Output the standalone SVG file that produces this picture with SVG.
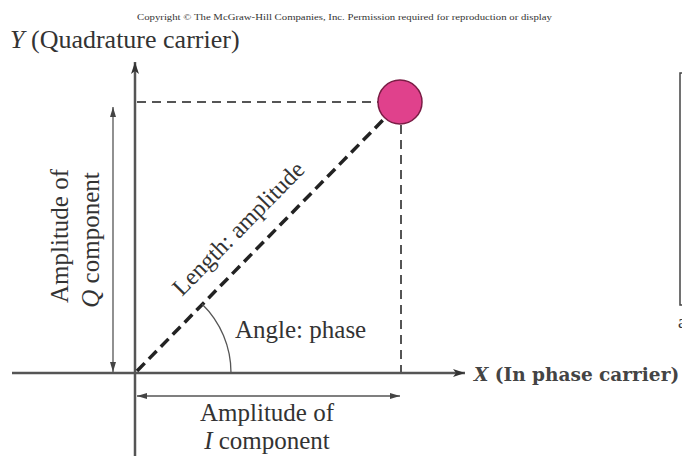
<svg xmlns="http://www.w3.org/2000/svg" width="682" height="456" viewBox="0 0 682 456">
<defs>
<marker id="ah" viewBox="0 0 12 8" refX="12" refY="4" markerWidth="12" markerHeight="8" markerUnits="userSpaceOnUse" orient="auto-start-reverse"><path d="M0,0 L12,4 L0,8 L3,4 Z" fill="#333"/></marker>
<marker id="ahs" viewBox="0 0 10 6" refX="10" refY="3" markerWidth="10" markerHeight="6" markerUnits="userSpaceOnUse" orient="auto-start-reverse"><path d="M0,0 L10,3 L0,6 Z" fill="#444"/></marker>
</defs>
<style>
.t{font-family:"Liberation Serif",serif;fill:#333}
.axis{stroke:#555;stroke-width:2.5;fill:none}
.dim{stroke:#555;stroke-width:1.3;fill:none}
.dash{stroke:#555;stroke-width:2;stroke-dasharray:9,6;fill:none}
</style>
<rect width="682" height="456" fill="#fff"/>
<text class="t" x="137" y="20" font-size="9" textLength="415" lengthAdjust="spacingAndGlyphs" fill="#666">Copyright © The McGraw-Hill Companies, Inc. Permission required for reproduction or display</text>
<g id="connectors">
<line class="axis" x1="135" y1="456" x2="135" y2="62" marker-end="url(#ah)"/>
<line class="axis" x1="12" y1="373" x2="465" y2="373" marker-end="url(#ah)"/>
<line class="dash" x1="137" y1="102" x2="378" y2="102"/>
<line class="dash" x1="401" y1="125" x2="401" y2="372"/>
<line x1="137" y1="371" x2="385" y2="118" stroke="#222" stroke-width="3.5" stroke-dasharray="11,6"/>
<path class="dim" d="M231,373 A96,96 0 0 0 202,304"/>
<line class="dim" x1="113" y1="107" x2="113" y2="372" marker-start="url(#ahs)" marker-end="url(#ahs)"/>
<line class="dim" x1="137" y1="396" x2="400" y2="396" marker-start="url(#ahs)" marker-end="url(#ahs)"/>
</g>
<g id="point"><circle cx="400" cy="102" r="22" fill="#e0418c" stroke="#7a1d45" stroke-width="1.5"/></g>
<g id="y-label"><text class="t" x="10" y="48" font-size="26"><tspan font-style="italic">Y</tspan> (Quadrature carrier)</text></g>
<g id="x-label"><text x="474" y="381" font-size="18.5" font-family="'DejaVu Serif',serif" font-weight="bold" fill="#444"><tspan font-style="italic">X</tspan> (In phase carrier)</text></g>
<g id="q-label"><text class="t" font-size="25" text-anchor="middle" transform="translate(68,236) rotate(-90)">Amplitude of</text><text class="t" font-size="25" text-anchor="middle" transform="translate(99,240) rotate(-90)"><tspan font-style="italic">Q</tspan> component</text></g>
<g id="i-label"><text class="t" x="267" y="421" font-size="25" text-anchor="middle">Amplitude of</text><text class="t" x="267" y="449" font-size="25" text-anchor="middle"><tspan font-style="italic">I</tspan> component</text></g>
<g id="length-label"><text class="t" font-size="24" text-anchor="middle" transform="translate(244,234) rotate(-45.5)">Length: amplitude</text></g>
<g id="angle-label"><text class="t" x="235" y="338" font-size="25">Angle: phase</text></g>
<g id="side-box"><rect x="680" y="73" width="10" height="232" fill="none" stroke="#444" stroke-width="1.5"/><text class="t" x="678" y="328" font-size="18">a</text></g>
</svg>
